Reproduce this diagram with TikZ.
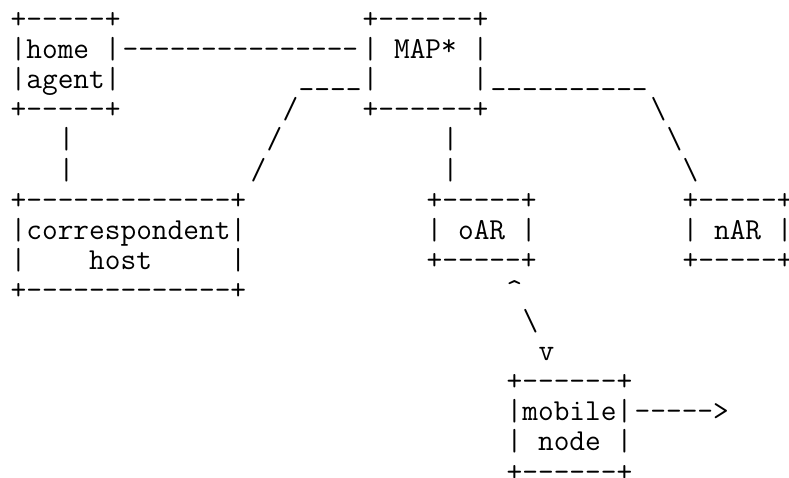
\documentclass[tikz,border=0pt]{standalone}
\usepackage{fontspec}
\usepackage{tikz}
\newcommand{\asciifont}{\fontsize{30.48pt}{30.2pt}\selectfont\ttfamily}
% underscore and star sit a bit too low in lmtt
\newcommand{\usc}{\raisebox{3.5pt}{\_}}
\newcommand{\astk}{\raisebox{3pt}{*}}
\tikzset{
  ascii/.style={anchor=base west, inner sep=0pt, outer sep=0pt, font=\asciifont},
}
\begin{document}
\begin{tikzpicture}[x=16pt, y=-30.2pt]
  \useasboundingbox (0pt,0pt) rectangle (789pt,-477pt);
  \begin{scope}[shift={(10.7pt,-28pt)}]
    % home agent and MAP
    \node[ascii] (ha0) at (0,0) {+-----+};
    \node[ascii] (ha1) at (0,1) {|home |};
    \node[ascii] (ha2) at (0,2) {|agent|};
    \node[ascii] (ha3) at (0,3) {+-----+};
    \node[ascii] (map0) at (22,0) {+------+};
    \node[ascii] (map1) at (22,1) {| MAP\astk{} |};
    \node[ascii] (map2) at (22,2) {|~~~~~~|};
    \node[ascii] (map3) at (22,3) {+------+};
    \node[ascii] (link) at (7,1) {---------------};

    % links leaving the MAP
    \node[ascii] (chbar) at (18,2) {\usc\usc\usc\usc};
    \node[ascii] (narbar) at (30,2) {\usc\usc\usc\usc\usc\usc\usc\usc\usc\usc};
    \foreach \c/\r in {17/3, 16/4, 15/5}
      \node[ascii] (chs\r) at (\c,\r) {/};
    \foreach \c/\r in {40/3, 41/4, 42/5}
      \node[ascii] (nars\r) at (\c,\r) {\textbackslash};
    \foreach \r in {4,5} {
      \node[ascii] (hav\r) at (3,\r) {|};
      \node[ascii] (oarv\r) at (27,\r) {|};
    }

    % correspondent host, oAR, nAR
    \node[ascii] (ch6) at (0,6) {+-------------+};
    \node[ascii] (ch7) at (0,7) {|correspondent|};
    \node[ascii] (ch8) at (0,8) {|~~~~host~~~~~|};
    \node[ascii] (ch9) at (0,9) {+-------------+};
    \node[ascii] (oar6) at (26,6) {+-----+};
    \node[ascii] (oar7) at (26,7) {|~oAR~|};
    \node[ascii] (oar8) at (26,8) {+-----+};
    \node[ascii] (nar6) at (42,6) {+-----+};
    \node[ascii] (nar7) at (42,7) {|~nAR~|};
    \node[ascii] (nar8) at (42,8) {+-----+};

    % radio link to the mobile node
    \node[ascii] (up) at (31,9) {\textasciicircum};
    \node[ascii] (diag) at (32,10) {\textbackslash};
    \node[ascii] (down) at (33,11) {v};

    % mobile node
    \node[ascii] (mn12) at (31,12) {+------+};
    \node[ascii] (mn13) at (31,13) {|mobile|};
    \node[ascii] (mn14) at (31,14) {|~node~|};
    \node[ascii] (mn15) at (31,15) {+------+};
    \node[ascii] (move) at (39,13) {----->};
  \end{scope}
\end{tikzpicture}
\end{document}
